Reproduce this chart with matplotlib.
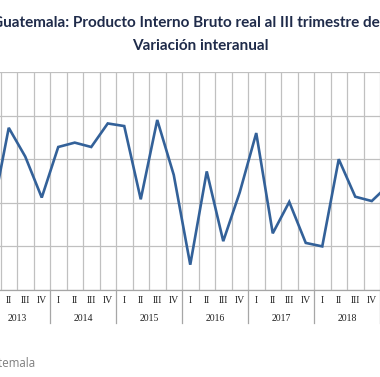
import matplotlib
matplotlib.use("Agg")
import matplotlib.pyplot as plt
import matplotlib.transforms as mtransforms


YEARS = ["2013", "2014", "2015", "2016", "2017", "2018", "2019"]
QUARTERS = ["I", "II", "III", "IV"]
# variacion interanual, 2013 I .. 2019 I (rest falls outside the crop)
GROWTH = [2.88, 3.86, 3.53, 3.06,
          3.64, 3.69, 3.64, 3.91,
          3.88, 3.04, 3.95, 3.32,
          2.29, 3.36, 2.56, 3.12,
          3.80, 2.65, 3.01, 2.54,
          2.50, 3.50, 3.07, 3.02,
          3.20]
N_CATEGORIES = 27  # up to 2019 III

LINE_COLOR = "#336199"
GRID_COLOR = "#c0c0c0"
TITLE_COLOR = "#1f2b4a"


def plot_chart():
    fig = plt.figure(figsize=(3.8, 3.77), dpi=100)
    ax = fig.add_axes([-16 / 380, 87 / 377, 445.5 / 380, 218 / 377])

    ax.plot(range(len(GROWTH)), GROWTH, color=LINE_COLOR, lw=1.9, solid_joinstyle="miter")

    ax.set_xlim(-0.5, N_CATEGORIES - 0.5)
    ax.set_ylim(2.0, 4.5)
    ax.set_yticks([2.0, 2.5, 3.0, 3.5, 4.0, 4.5])
    ax.set_yticklabels([])
    ax.tick_params(axis="y", length=0)

    # quarter labels on major ticks, gridlines on category boundaries
    quarter_labels = [QUARTERS[i % 4] for i in range(N_CATEGORIES)]
    ax.set_xticks(range(N_CATEGORIES))
    ax.set_xticklabels(quarter_labels, family="Liberation Serif", fontsize=7, color="#222222")
    ax.tick_params(axis="x", length=0, pad=4)
    ax.set_xticks([i + 0.5 for i in range(N_CATEGORIES - 1)], minor=True)
    ax.tick_params(axis="x", which="minor", length=0)
    ax.grid(True, axis="x", which="minor", color=GRID_COLOR, lw=0.9)
    ax.grid(True, axis="y", which="major", color=GRID_COLOR, lw=0.9)
    ax.set_axisbelow(True)

    for side in ["top", "left", "right"]:
        ax.spines[side].set_visible(False)
    ax.spines["bottom"].set_color("#a6a6a6")
    ax.spines["bottom"].set_linewidth(0.9)

    # year labels and separators under the axis
    trans = mtransforms.blended_transform_factory(ax.transData, ax.transAxes)
    for k, year in enumerate(YEARS):
        start = 4 * k - 0.5
        end = min(4 * k + 3.5, N_CATEGORIES - 0.5)
        ax.text((start + end) / 2, -0.13, year, transform=trans, ha="center", va="center",
                family="Liberation Serif", fontsize=7, color="#222222")
        if k > 0:
            ax.plot([start, start], [0, -0.152], transform=trans, color="#a6a6a6",
                    lw=0.9, clip_on=False)

    fig.text(0.540, 0.94, "Guatemala: Producto Interno Bruto real al III trimestre de 2019",
             ha="center", va="center", fontsize=11.0, fontweight="bold",
             family="Lato", color=TITLE_COLOR)
    fig.text(0.528, 0.879, "Variación interanual", ha="center", va="center",
             fontsize=11, fontweight="bold", family="Lato", color=TITLE_COLOR)

    fig.text(0.093, 0.037, "Fuente: Banco de Guatemala", ha="right", va="center",
             fontsize=8.3, family="Open Sans", color="#7f7f7f")

    fig.savefig("out.png", dpi=100)


if __name__ == "__main__":
    plot_chart()
